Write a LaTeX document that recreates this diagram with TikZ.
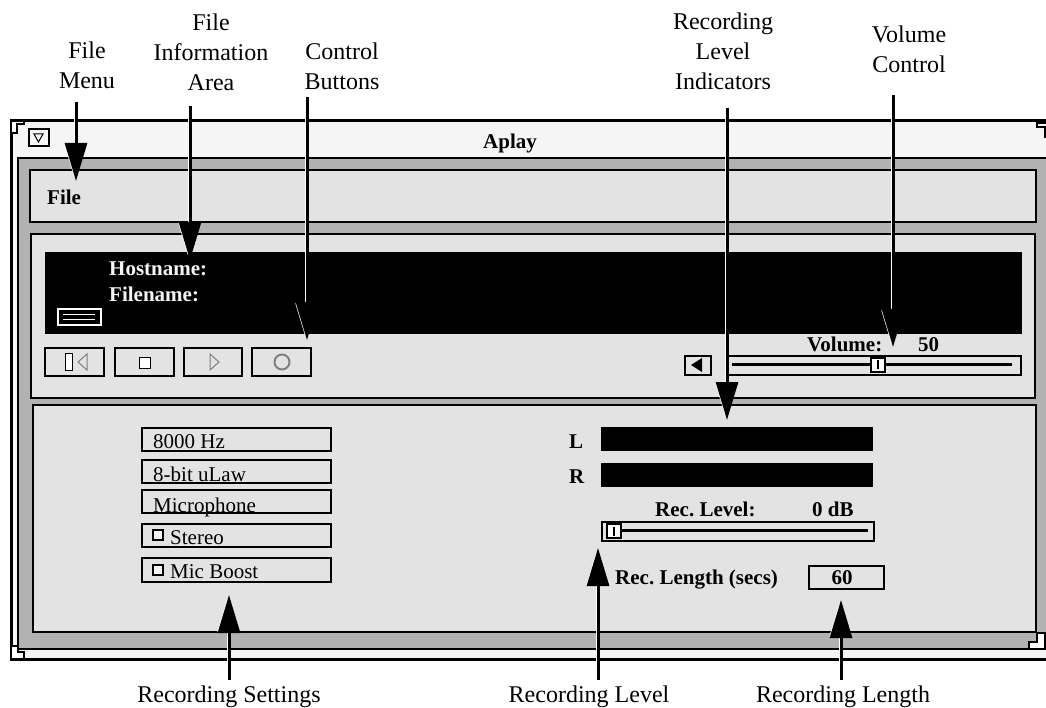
\documentclass[tikz,border=0pt]{standalone}
\usepackage{fontspec}
\setmainfont{Liberation Serif}
\frenchspacing
\usetikzlibrary{arrows.meta}
\definecolor{framegrey}{HTML}{F5F5F5}
\definecolor{backgrey}{HTML}{B2B2B2}
\definecolor{panelgrey}{HTML}{E3E3E3}
\definecolor{icongrey}{HTML}{808080}
\begin{document}
\begin{tikzpicture}[x=1pt,y=-1pt]
    \tikzstyle{every node}=[font=\fontsize{21}{30}\selectfont, align=center, inner sep=0pt]
    \tikzset{
        panel/.style={draw, line width=2pt, fill=panelgrey},
        n/.style={panel, minimum width=189pt, minimum height=23pt},
        btn/.style={panel, minimum width=59pt, minimum height=28pt},
        bar/.style={fill=black, minimum width=272pt, minimum height=24pt},
        thumb/.style={draw, line width=2pt, fill=white, minimum width=14pt, minimum height=14pt},
        check/.style={draw, line width=2pt, fill=framegrey, minimum width=10pt, minimum height=10pt},
        txt/.style={anchor=base west},
        boldtxt/.style={txt, font=\fontsize{21}{30}\selectfont\bfseries},
        callout/.style={font=\fontsize{24}{30}\selectfont},
        pointer/.style={line width=3pt, -{Triangle[length=38pt,width=22pt]},
            preaction={draw=white, transform canvas={xshift=-2pt}}}
    }
    \useasboundingbox (0,0) rectangle (1046,708);

    %window frame
    \draw[line width=3pt, fill=framegrey] (11,659) -- (11,121) -- (1048,121) -- (1048,659) -- cycle;
    \draw[line width=2pt, fill=backgrey] (18,649) -- (18,158) -- (1048,158) -- (1048,649) -- cycle;
    \draw[line width=2pt, fill=white] (11,121) -- (24,121) -- (24,124) -- (17,124) -- (17,133) -- (11,133) -- cycle;
    \draw[line width=2pt, fill=white] (11,659) -- (24,659) -- (24,652) -- (18,652) -- (18,646) -- (11,646) -- cycle;
    \draw[line width=2pt] (1048,123) -- (1037,123) -- (1037,127) -- (1045,127) -- (1045,138);
    \draw[line width=2pt, fill=white] (1037,633) -- (1045,633) -- (1045,649) -- (1029,649) -- (1029,642) -- (1037,642) -- cycle;
    \node (winbtn) [draw, line width=2pt, minimum width=20pt, minimum height=17pt] at (38.5,138) {};
    \draw[line width=1pt] (34,134) -- (43,134) -- (38.5,142) -- cycle;
    \node (title) [boldtxt, anchor=base] at (510,149) {Aplay};

    %panels
    \node (filepanel) [panel, minimum width=1006pt, minimum height=52pt] at (533,196) {};
    \node (infopanel) [panel, minimum width=1004pt, minimum height=164pt] at (533,316) {};
    \node (recpanel) [panel, minimum width=1003pt, minimum height=227pt] at (534.5,518.5) {};
    \node (file) [boldtxt] at (47,205) {File};

    %file information area
    \node (infoarea) [fill=black, minimum width=977pt, minimum height=82pt] at (533.5,293) {};
    \node (hostname) [boldtxt, text=framegrey] at (109,276) {Hostname:};
    \node (filename) [boldtxt, text=framegrey] at (109,302) {Filename:};
    \node (fileicon) [draw=white, line width=2pt, fill=black, minimum width=43pt, minimum height=16pt] at (79,317.5) {};
    \draw[white, line width=1pt] (63,315) -- (95,315) (63,320) -- (95,320);

    %control buttons
    \node (rewind) [btn] at (74.5,362) {};
    \node (stopbtn) [btn] at (144.5,362) {};
    \node (play) [btn, minimum width=58pt] at (213,362) {};
    \node (record) [btn] at (281.5,362) {};
    \node (rewindbar) [draw, line width=1pt, fill=white, minimum width=7pt, minimum height=17pt] at (69,362) {};
    \draw[icongrey, line width=1pt] (87,354) -- (78,362) -- (87,370) -- cycle;
    \node (stopicon) [draw, line width=1pt, fill=white, minimum width=11pt, minimum height=11pt] at (144.5,363) {};
    \draw[icongrey, line width=1pt] (210,354) -- (219,362) -- (210,370) -- cycle;
    \node (recicon) [circle, draw=icongrey, line width=2pt, minimum size=15pt] at (282,362) {};

    %volume
    \node (volume) [boldtxt] at (807,352) {Volume:};
    \node (volumeval) [boldtxt] at (918,352) {50};
    \node (voldown) [panel, minimum width=26pt, minimum height=19pt] at (698,365.5) {};
    \fill (691,365) -- (702,358) -- (702,372) -- cycle;
    \node (volslider) [panel, minimum width=294pt, minimum height=19pt] at (874,365.5) {};
    \draw[line width=2.5pt] (732,364.5) -- (1012,364.5);
    \node (volthumb) [thumb] at (878,364.5) {};
    \draw[line width=2pt] (878,360) -- (878,369);

    %recording settings
    \node (rate) [n] at (236.5,439.5) {};
    \node (encoding) [n] at (236.5,471.5) {};
    \node (source) [n] at (236.5,501.5) {};
    \node (stereo) [n] at (236.5,535.5) {};
    \node (boost) [n, minimum height=24pt] at (236.5,570) {};
    \node (ratetxt) [txt] at (153,448) {8000 Hz};
    \node (encodingtxt) [txt] at (153,481) {8-bit uLaw};
    \node (sourcetxt) [txt] at (153,512) {Microphone};
    \node (stereocheck) [check] at (157.5,535) {};
    \node (stereotxt) [txt] at (170,544) {Stereo};
    \node (boostcheck) [check] at (157.5,570) {};
    \node (boosttxt) [txt] at (170,578) {Mic Boost};

    %recording level
    \node (left) [boldtxt] at (569,448) {L};
    \node (right) [boldtxt] at (569,483) {R};
    \node (leftbar) [bar] at (737,439) {};
    \node (rightbar) [bar] at (737,475) {};
    \node (reclevel) [boldtxt] at (655,516) {Rec. Level:};
    \node (recdb) [boldtxt] at (812,516) {0 dB};
    \node (recslider) [panel, minimum width=272pt, minimum height=19pt] at (738,531) {};
    \draw[line width=2.5pt] (606,530.5) -- (868,530.5);
    \node (recthumb) [thumb] at (614,531) {};
    \draw[line width=2pt] (614,527) -- (614,536);
    \node (reclength) [boldtxt] at (615,584) {Rec. Length (secs)};
    \node (lengthbox) [panel, minimum width=75pt, minimum height=23pt] at (846.5,577.5) {};
    \node (lengthval) [boldtxt, anchor=base] at (842,584) {60};

    %labels
    \node (menulabel) [callout] at (87,65) {File\\Menu};
    \node (infolabel) [callout] at (211,52) {File\\Information\\Area};
    \node (ctrllabel) [callout] at (342,66) {Control\\Buttons};
    \node (indlabel) [callout] at (723,51) {Recording\\Level\\Indicators};
    \node (vollabel) [callout] at (909,49) {Volume\\Control};
    \node (setlabel) [callout] at (229,697) {Recording Settings};
    \node (levellabel) [callout] at (589,697) {Recording Level};
    \node (lenlabel) [callout] at (843,697) {Recording Length};

    \coordinate (menutip) at (76,181);
    \coordinate (infotip) at (190,260);
    \coordinate (ctrltip) at (307,340);
    \coordinate (indtip) at (727,420);
    \coordinate (voltip) at (893,347);
    \coordinate (settip) at (229,595);
    \coordinate (leveltip) at (598,548);
    \coordinate (lentip) at (841,600);

    \draw[pointer] ([yshift=-13pt]menulabel.south -| menutip) -- (menutip);
    \draw[pointer] ([yshift=-15pt]infolabel.south -| infotip) -- (infotip);
    \draw[pointer] ([yshift=-7pt]ctrllabel.south -| ctrltip) -- (ctrltip);
    \draw[pointer] ([yshift=-18pt]indlabel.south -| indtip) -- (indtip);
    \draw[pointer] ([yshift=-22pt]vollabel.south -| voltip) -- (voltip);
    \draw[pointer] ([yshift=6pt]setlabel.north -| settip) -- (settip);
    \draw[pointer] ([yshift=6pt]levellabel.north -| leveltip) -- (leveltip);
    \draw[pointer] ([yshift=6pt]lenlabel.north -| lentip) -- (lentip);
\end{tikzpicture}
\end{document}
